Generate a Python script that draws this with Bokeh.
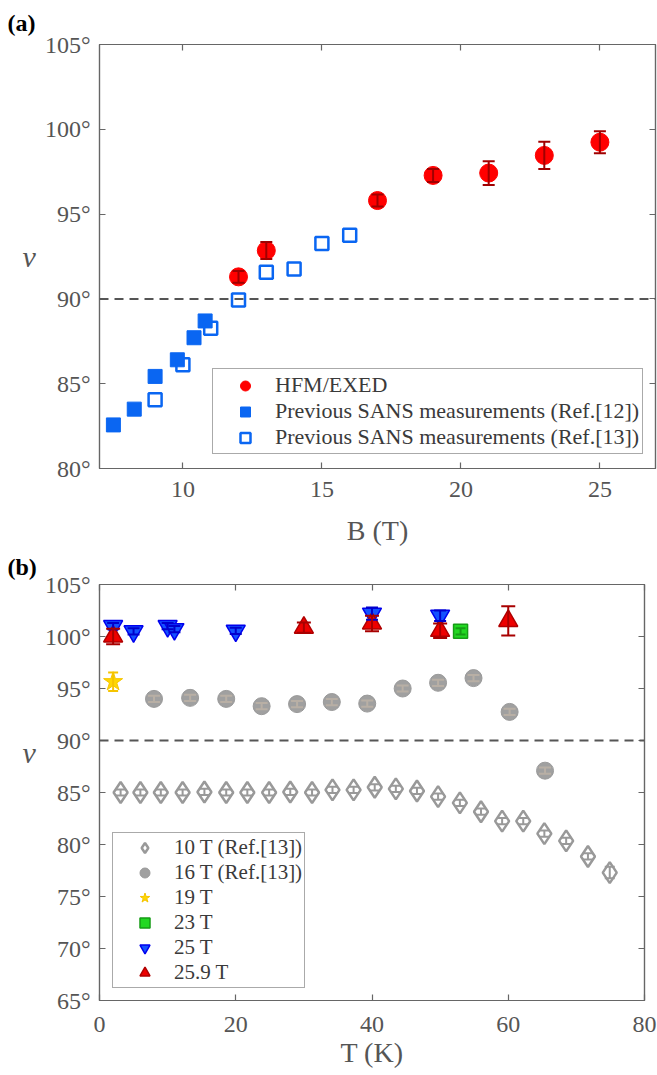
from bokeh.plotting import figure
from bokeh.models import (FixedTicker, LinearAxis, Span, Whisker, TeeHead,
                          ColumnDataSource, Legend, LegendItem, Title)
from bokeh.embed import file_html
from bokeh.resources import INLINE

SERIF = "Liberation Serif"
AXC = "#666666"
TXC = "#555555"

# ---------------- Panel (a) data ----------------
a_hfm_B = [12, 13, 17, 19, 21, 23, 25]
a_hfm_nu = [91.3, 92.85, 95.8, 97.28, 97.42, 98.46, 99.24]
a_hfm_err = [0.35, 0.5, 0.35, 0.38, 0.7, 0.8, 0.65]
a_ref12_B = [7.5, 8.25, 9.0, 9.8, 10.4, 10.8]
a_ref12_nu = [82.57, 83.5, 85.43, 86.41, 87.71, 88.7]
a_ref13_B = [9, 10, 11, 12, 13, 14, 15, 16]
a_ref13_nu = [84.06, 86.12, 88.27, 89.94, 91.57, 91.76, 93.27, 93.75]
a_xticks = [10, 15, 20, 25]
a_yticks = [80, 85, 90, 95, 100, 105]

# ---------------- Panel (b) data ----------------
b_10T_T = [3.1, 6.0, 9.0, 12.2, 15.4, 18.6, 21.7, 24.9, 28.0, 31.2, 34.2, 37.3,
           40.4, 43.5, 46.6, 49.7, 52.9, 56.0, 59.1, 62.2, 65.3, 68.5, 71.7, 74.9]
b_10T_nu = [85.0, 85.0, 85.0, 85.0, 85.05, 85.0, 85.0, 85.0, 85.05, 85.0, 85.25, 85.25,
            85.5, 85.35, 85.15, 84.6, 84.0, 83.15, 82.25, 82.25, 81.05, 80.35, 78.85, 77.3]
b_10T_err = [0.3] * 23 + [0.55]
b_16T_T = [8.0, 13.3, 18.6, 23.8, 29.0, 34.1, 39.3, 44.5, 49.7, 54.9, 60.2, 65.4]
b_16T_nu = [94.0, 94.1, 94.0, 93.3, 93.5, 93.7, 93.55, 95.0, 95.55, 96.0, 92.75, 87.1]
b_16T_err = [0.3] * 12
b_19T_T = [2.0]
b_19T_nu = [95.65]
b_19T_err = [0.88]
b_23T_T = [53.0]
b_23T_nu = [100.5]
b_23T_err = [0.3]
b_25T_T = [2.0, 5.0, 10.0, 11.0, 20.0, 40.0, 50.0]
b_25T_nu = [101.0, 100.5, 101.0, 100.7, 100.55, 102.2, 102.0]
b_25T_err = [0.3, 0.3, 0.3, 0.3, 0.3, 0.6, 0.5]
b_259T_T = [2.0, 30.0, 40.0, 50.0, 60.0]
b_259T_nu = [100.0, 100.85, 101.25, 100.55, 101.5]
b_259T_err = [0.75, 0.5, 0.75, 0.7, 1.4]
b_xticks = [0, 20, 40, 60, 80]
b_yticks = [65, 70, 75, 80, 85, 90, 95, 100, 105]


def style(p, xt, yt, xlabel, ylabel, xstand, xlabstand):
    p.xgrid.visible = False
    p.ygrid.visible = False
    p.outline_line_color = AXC
    p.outline_line_width = 1.2
    p.xaxis.ticker = FixedTicker(ticks=xt)
    p.xaxis.major_label_overrides = {t: str(t) for t in xt}
    p.yaxis.ticker = FixedTicker(ticks=yt)
    p.yaxis.major_label_overrides = {t: f"{t}\u00b0" for t in yt}
    for ax in (p.xaxis[0], p.yaxis[0]):
        ax.axis_line_color = AXC
        ax.axis_line_width = 1.2
        ax.major_tick_line_color = AXC
        ax.major_tick_line_width = 1.2
        ax.major_tick_in = 6
        ax.major_tick_out = 0
        ax.minor_tick_line_color = None
        ax.minor_tick_in = 0
        ax.minor_tick_out = 0
        ax.major_label_text_font = SERIF
        ax.major_label_text_font_size = "24px"
        ax.major_label_text_color = TXC
        ax.axis_label_text_font = SERIF
        ax.axis_label_text_color = TXC
    p.xaxis.major_label_standoff = xstand
    p.yaxis.major_label_standoff = 9
    p.xaxis.axis_label = xlabel
    p.xaxis.axis_label_text_font_size = "28px"
    p.xaxis.axis_label_text_font_style = "normal"
    p.xaxis.axis_label_standoff = xlabstand
    p.yaxis.axis_label = ylabel
    p.yaxis.axis_label_text_font_size = "30px"
    p.yaxis.axis_label_text_font_style = "italic"
    p.yaxis.axis_label_orientation = "horizontal"
    p.yaxis.axis_label_standoff = 6
    for ticks, side in ((xt, "above"), (yt, "right")):
        ax = LinearAxis(ticker=FixedTicker(ticks=ticks),
                        major_label_overrides={t: "" for t in ticks},
                        major_label_text_font_size="0px", major_label_standoff=0,
                        axis_label_standoff=0,
                        major_tick_in=6, major_tick_out=0,
                        minor_tick_in=0, minor_tick_out=0, minor_tick_line_color=None,
                        axis_line_color=AXC, axis_line_width=1.2,
                        major_tick_line_color=AXC, major_tick_line_width=1.2)
        p.add_layout(ax, side)
    p.add_layout(Span(location=90, dimension="width", line_color="#555555",
                      line_dash="9 6", line_width=2))


def errbars(p, xs, ys, errs, color, cap=12, lw=2):
    src = ColumnDataSource(dict(base=xs,
                                upper=[y + e for y, e in zip(ys, errs)],
                                lower=[y - e for y, e in zip(ys, errs)]))
    w = Whisker(source=src, base="base", upper="upper", lower="lower",
                dimension="height", line_color=color, line_width=lw, level="glyph",
                upper_head=TeeHead(size=cap, line_color=color, line_width=lw),
                lower_head=TeeHead(size=cap, line_color=color, line_width=lw))
    p.add_layout(w)


def panel_title(p, text, standoff):
    t = Title(text=text, align="left", offset=-92, text_font=SERIF,
              text_font_size="24px", text_font_style="bold", text_color="black",
              vertical_align="top", standoff=standoff)
    p.add_layout(t, "above")


# ---------------- Figure (a) ----------------
pa = figure(width=657, height=548, x_range=(7, 27), y_range=(80, 105),
            output_backend="svg", toolbar_location=None,
            min_border_left=99, min_border_right=2, min_border_top=44,
            min_border_bottom=79)
style(pa, a_xticks, a_yticks, "B (T)", "\u03bd", 13, 15)

r12 = pa.scatter(a_ref12_B, a_ref12_nu, marker="square", size=14,
                 fill_color="#0A66F2", line_color="#0A66F2")
r13 = pa.scatter(a_ref13_B, a_ref13_nu, marker="square", size=13,
                 fill_color=None, line_color="#0A66F2", line_width=2.5)
rh = pa.scatter(a_hfm_B, a_hfm_nu, marker="circle", size=18,
                fill_color="#FF0000", line_color="#FF0000")
errbars(pa, a_hfm_B, a_hfm_nu, a_hfm_err, "#A00000", cap=12)

leg_a = Legend(items=[LegendItem(label="HFM/EXED", renderers=[rh]),
                      LegendItem(label="Previous SANS measurements (Ref.[12])", renderers=[r12]),
                      LegendItem(label="Previous SANS measurements (Ref.[13])", renderers=[r13])],
               location=(113, 14), label_text_font=SERIF, label_text_font_size="22px",
               label_text_line_height=0.95, label_height=20,
               label_text_color="#3a3a3a", glyph_width=58, glyph_height=25, spacing=0,
               padding=3, margin=0, label_standoff=1, border_line_color="#555555",
               border_line_width=1, background_fill_color="white", background_fill_alpha=1)
pa.add_layout(leg_a)
panel_title(pa, "(a)", 14)

# ---------------- Figure (b) ----------------
pb = figure(width=657, height=522, x_range=(0, 80), y_range=(65, 105),
            output_backend="svg", toolbar_location=None,
            min_border_left=99, min_border_right=13, min_border_top=36,
            min_border_bottom=69)
style(pb, b_xticks, b_yticks, "T (K)", "\u03bd\n\u00a0\n\u00a0", 16, 2)

rd = pb.scatter(b_10T_T, b_10T_nu, marker="diamond", size=21, fill_color=None,
                line_color="#999999", line_width=2.5)
errbars(pb, b_10T_T, b_10T_nu, b_10T_err, "#999999", cap=10)
rc = pb.scatter(b_16T_T, b_16T_nu, marker="circle", size=17, fill_color="#A0A0A0",
                line_color="#9a9a9a")
errbars(pb, b_16T_T, b_16T_nu, b_16T_err, "#B8AFA5", cap=12)
rs = pb.scatter(b_19T_T, b_19T_nu, marker="star", size=20, fill_color="#FFD700",
                line_color="#F5C400")
errbars(pb, b_19T_T, b_19T_nu, b_19T_err, "#F5C400", cap=10)
rq = pb.scatter(b_23T_T, b_23T_nu, marker="square", size=14, fill_color="#22D822",
                line_color="#169C16", line_width=1.5)
errbars(pb, b_23T_T, b_23T_nu, b_23T_err, "#169C16", cap=10)
rv = pb.scatter(b_25T_T, b_25T_nu, marker="inverted_triangle", size=19,
                fill_color="#1452FF", line_color="#0000EE", line_width=1.5)
errbars(pb, b_25T_T, b_25T_nu, b_25T_err, "#0000CC", cap=12)
rt = pb.scatter(b_259T_T, b_259T_nu, marker="triangle", size=19,
                fill_color="#EE0000", line_color="#B00000", line_width=1.5)
errbars(pb, b_259T_T, b_259T_nu, b_259T_err, "#A80000", cap=14)

leg_b = Legend(items=[LegendItem(label="10 T (Ref.[13])", renderers=[rd]),
                      LegendItem(label="16 T (Ref.[13])", renderers=[rc]),
                      LegendItem(label="19 T", renderers=[rs]),
                      LegendItem(label="23 T", renderers=[rq]),
                      LegendItem(label="25 T", renderers=[rv]),
                      LegendItem(label="25.9 T", renderers=[rt])],
               location=(13, 12), label_text_font=SERIF, label_text_font_size="21px",
               label_text_line_height=0.95, label_height=20,
               label_text_color="#3a3a3a", glyph_width=59, glyph_height=25, spacing=0,
               padding=2, margin=0, label_standoff=0, border_line_color="#555555",
               border_line_width=1, background_fill_color="white", background_fill_alpha=1)
pb.add_layout(leg_b)
panel_title(pb, "(b)", 6)

open("out.html", "w").write(file_html([pa, pb], INLINE))
